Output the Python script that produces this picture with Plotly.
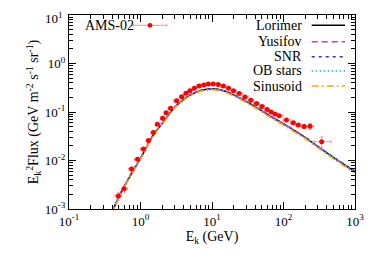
import plotly.graph_objects as go

# ---------------- data ----------------
ams_E = [0.49, 0.59, 0.75, 0.91, 1.10, 1.29, 1.51, 1.72, 2.04, 2.28,
         2.64, 3.2, 3.77, 4.33, 4.92, 5.66, 6.6, 7.7, 8.9, 10.4,
         12.2, 14.4, 17, 20, 24, 29, 35, 42, 50, 59,
         67, 76, 87, 110, 137, 161, 194, 235, 342]
ams_F = [1.86e-3, 2.6e-3, 6.7e-3, 0.0106, 0.0173, 0.0257, 0.038, 0.0557, 0.074, 0.097,
         0.119, 0.171, 0.207, 0.243, 0.275, 0.308, 0.343, 0.36, 0.378, 0.378,
         0.37, 0.343, 0.31, 0.275, 0.24, 0.205, 0.175, 0.15, 0.13, 0.112,
         0.10, 0.091, 0.084, 0.068, 0.060, 0.054, 0.050, 0.051, 0.0245]
ams_F_err = [0.35e-3, 0.45e-3, 0.6e-3, 0.6e-3, 0.8e-3, 1.0e-3, 1.3e-3, 1.7e-3, 2e-3, 2.5e-3,
             3e-3, 4e-3, 5e-3, 5e-3, 6e-3, 6e-3, 7e-3, 7e-3, 7e-3, 7e-3,
             7e-3, 7e-3, 6e-3, 6e-3, 5e-3, 5e-3, 4e-3, 4e-3, 3.5e-3, 3e-3,
             3e-3, 3e-3, 3e-3, 3e-3, 3.5e-3, 4e-3, 5e-3, 7e-3, 6e-3]
ams_E_lo = [0.44, 0.545, 0.68, 0.82, 1.0, 1.2, 1.4, 1.62, 1.9, 2.15,
            2.45, 2.9, 3.5, 4.05, 4.6, 5.3, 6.1, 7.1, 8.3, 9.6,
            11.3, 13.3, 15.7, 18.5, 22, 26.5, 32, 38.5, 46, 54.5,
            63, 71.5, 81.5, 98, 125, 148, 177, 211, 265]
ams_E_hi = [0.545, 0.66, 0.82, 1.0, 1.2, 1.4, 1.62, 1.9, 2.15, 2.45,
            2.9, 3.5, 4.05, 4.6, 5.3, 6.1, 7.1, 8.3, 9.6, 11.3,
            13.3, 15.7, 18.5, 22, 26.5, 32, 38.5, 46, 54.5, 63,
            71.5, 81.5, 98, 125, 148, 177, 211, 265, 460]

model_E = [0.4, 0.5, 0.7, 1.0, 1.5, 2.0, 3.0, 4.0, 5.0, 7.0, 10, 15, 20, 30, 50, 70, 100, 200, 300, 500, 1000]
lorimer = [8.5e-4, 1.8e-3, 4.5e-3, 0.0110, 0.033, 0.057, 0.125, 0.180, 0.225, 0.278, 0.300,
           0.270, 0.225, 0.165, 0.105, 0.077, 0.057, 0.030, 0.0195, 0.0115, 0.0059]
yusifov = [8.6e-4, 1.82e-3, 4.55e-3, 0.0111, 0.0333, 0.0575, 0.126, 0.181, 0.226, 0.279, 0.301,
           0.271, 0.226, 0.166, 0.106, 0.0775, 0.0573, 0.0302, 0.0196, 0.0116, 0.00595]
snr = [8.7e-4, 1.84e-3, 4.6e-3, 0.0112, 0.0336, 0.058, 0.127, 0.183, 0.228, 0.281, 0.303,
       0.273, 0.228, 0.167, 0.107, 0.078, 0.0578, 0.0304, 0.0198, 0.0117, 0.0060]
ob_stars = [8.5e-4, 1.8e-3, 4.5e-3, 0.0110, 0.033, 0.057, 0.125, 0.180, 0.225, 0.277, 0.299,
            0.269, 0.224, 0.164, 0.104, 0.0765, 0.0566, 0.0298, 0.0194, 0.0114, 0.00585]
sinusoid = [8.1e-4, 1.72e-3, 4.3e-3, 0.0105, 0.0316, 0.0546, 0.120, 0.173, 0.216, 0.267, 0.288,
            0.259, 0.215, 0.157, 0.0995, 0.0728, 0.0538, 0.0283, 0.0184, 0.0108, 0.0055]

x_tickvals = [0.1, 1, 10, 100, 1000]
x_ticktext = ["10<sup>-1</sup>", "10<sup>0</sup>", "10<sup>1</sup>", "10<sup>2</sup>", "10<sup>3</sup>"]
y_tickvals = [1e-3, 1e-2, 1e-1, 1, 10]
y_ticktext = ["10<sup>-3</sup>", "10<sup>-2</sup>", "10<sup>-1</sup>", "10<sup>0</sup>", "10<sup>1</sup>"]

models = [
    ("Lorimer", lorimer, "#000000", "solid"),
    ("Yusifov", yusifov, "#c040c0", "6px,4px"),
    ("SNR", snr, "#2a2aff", "3px,4px"),
    ("OB stars", ob_stars, "#20b0b0", "1.5px,2.5px"),
    ("Sinusoid", sinusoid, "#ffa500", "7px,3px,2px,3px"),
]

FONT = "Liberation Serif"

fig = go.Figure()

for name, vals, col, dash in models:
    fig.add_trace(go.Scatter(x=model_E, y=vals, mode="lines", name=name,
                             line=dict(color=col, width=1.5, dash=dash, shape="spline", smoothing=0.6),
                             showlegend=False))

err_plus_x = [h - e for h, e in zip(ams_E_hi, ams_E)]
err_minus_x = [e - l for e, l in zip(ams_E, ams_E_lo)]

fig.add_trace(go.Scatter(
    x=ams_E, y=ams_F, mode="markers", name="AMS-02",
    marker=dict(color="#ff0000", size=5),
    error_x=dict(type="data", array=err_plus_x, arrayminus=err_minus_x, color="#ff9090", thickness=1, width=1.5),
    error_y=dict(type="data", array=ams_F_err, color="#ff9090", thickness=1, width=1.5),
    showlegend=False))

# ---------------- manual legend ----------------
# page body has an 8px default margin; compensate so plot area lands at L..R, T..B of window
OFF = 8
W, H = 374 - OFF, 262 - OFF
L, R, T, B = 69, 355, 15, 209
def px(x):
    return (x - L) / (R - L)
def py(y):
    return (B - y) / (B - T)

shapes = []
annotations = []
rows = [25.3, 41.7, 56.7, 71.0, 86.0]
for (name, vals, col, dash), yy in zip(models, rows):
    shapes.append(dict(type="line", xref="paper", yref="paper",
                       x0=px(311.7), x1=px(345), y0=py(yy), y1=py(yy),
                       line=dict(color=col, width=1.5, dash=dash)))
    annotations.append(dict(text=name, xref="paper", yref="paper", x=px(304), y=py(yy),
                            xanchor="right", yanchor="middle", showarrow=False,
                            font=dict(family=FONT, size=14, color="black")))

# AMS-02 legend
ya = py(25.3)
shapes.append(dict(type="line", xref="paper", yref="paper", x0=px(133.3), x1=px(166.7),
                   y0=ya, y1=ya, line=dict(color="#ff9090", width=1)))
for xe in (133.3, 166.7):
    shapes.append(dict(type="line", xref="paper", yref="paper", x0=px(xe), x1=px(xe),
                       y0=py(23.8), y1=py(26.8), line=dict(color="#ff9090", width=1)))
shapes.append(dict(type="circle", xref="paper", yref="paper",
                   x0=px(147.6), x1=px(152.4), y0=py(27.7), y1=py(22.9),
                   fillcolor="#ff0000", line=dict(color="#ff0000", width=0)))
annotations.append(dict(text="AMS-02", xref="paper", yref="paper", x=px(82.7), y=ya,
                        xanchor="left", yanchor="middle", showarrow=False,
                        font=dict(family=FONT, size=14, color="black")))

# top y tick label placed as annotation so its superscript stays inside the page
y_ticktext_axis = list(y_ticktext[:-1]) + [""]
annotations.append(dict(text=y_ticktext[-1], xref="paper", yref="paper", x=px(65), y=py(8.5),
                        xanchor="right", yanchor="top", showarrow=False,
                        font=dict(family=FONT, size=13, color="black")))

minor_x = [m * 10 ** k for k in range(-1, 3) for m in range(2, 10)]
minor_y = [m * 10 ** k for k in range(-3, 1) for m in range(2, 10)]

axis_common = dict(type="log", showgrid=False, zeroline=False, showline=True, linecolor="black",
                   linewidth=1, mirror="ticks", ticks="inside", ticklen=7, tickcolor="black",
                   automargin=False, ticklabeloverflow="allow",
                   tickfont=dict(family=FONT, size=13, color="black"))

fig.update_xaxes(**axis_common, range=[-1, 3], tickmode="array", tickvals=x_tickvals, ticktext=x_ticktext,
                 minor=dict(tickmode="array", tickvals=minor_x, ticks="inside", ticklen=4, tickcolor="black"),
                 title=dict(text="E<sub>k</sub> (GeV)", font=dict(family=FONT, size=14, color="black"), standoff=2))
fig.update_yaxes(**axis_common, range=[-3, 1], tickmode="array", tickvals=y_tickvals, ticktext=y_ticktext_axis,
                 minor=dict(tickmode="array", tickvals=minor_y, ticks="inside", ticklen=4, tickcolor="black"),
                 title=dict(text="E<sub>k</sub><sup>2</sup>Flux (GeV m<sup>-2</sup> s<sup>-1</sup> sr<sup>-1</sup>)",
                            font=dict(family=FONT, size=14, color="black"), standoff=2))

fig.update_layout(width=W, height=H,
                  margin=dict(l=L - OFF, r=374 - R, t=T - OFF, b=262 - B, autoexpand=False),
                  paper_bgcolor="white", plot_bgcolor="white", shapes=shapes, annotations=annotations,
                  font=dict(family=FONT, size=14, color="black"))

fig.write_html("out.html")
